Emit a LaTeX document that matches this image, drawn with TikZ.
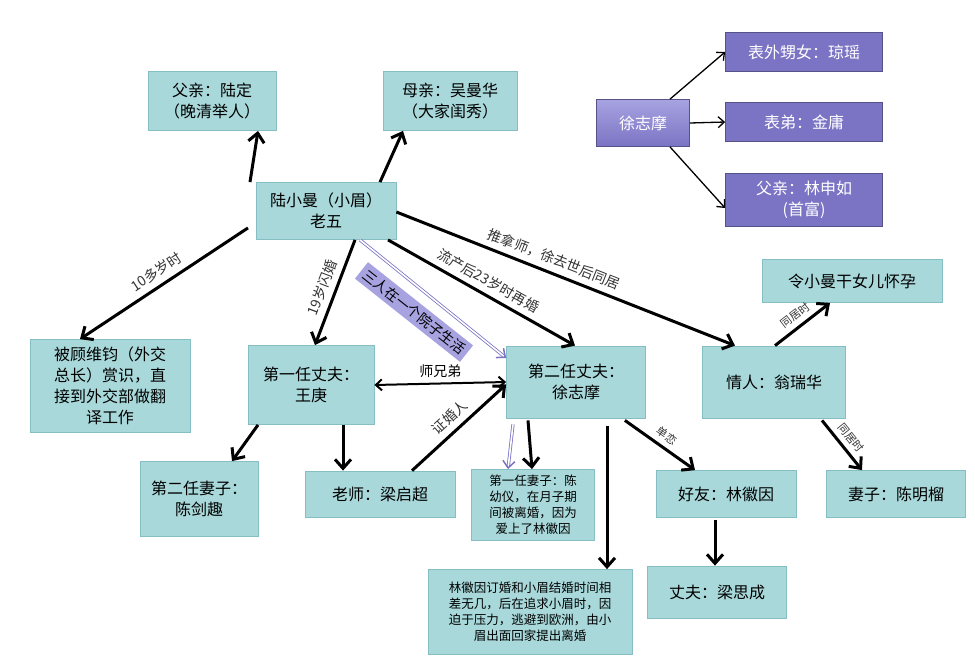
\documentclass[tikz,border=0pt]{standalone}
\usepackage{fontspec}
\setmainfont{Noto Sans CJK SC}
\usetikzlibrary{arrows.meta}
\definecolor{box}{HTML}{A8D8DA}
\definecolor{boxb}{HTML}{86BFC3}
\definecolor{pur}{HTML}{7B74C4}
\definecolor{purl}{HTML}{A7A2E0}
\begin{document}
\begin{tikzpicture}[x=1pt,y=-1pt,
 b/.style={draw=boxb,fill=box,line width=0.8pt,align=center,inner sep=2pt,font=\fontsize{16}{21}\selectfont},
 s/.style={b,font=\fontsize{12.5}{16}\selectfont},
 p/.style={draw=pur!70!black,fill=pur,text=white,align=center,font=\fontsize{16}{21}\selectfont,line width=0.8pt},
 a/.style={line width=3pt,-{Straight Barb[length=9pt,width=16pt,line width=3pt]}},
 t/.style={line width=1.3pt,-{Straight Barb[length=6pt,width=11pt,line width=1.3pt]}},
 pa/.style={double=white,draw=pur,line width=0.8pt,double distance=1.6pt,-{Straight Barb[length=7pt,width=12pt,line width=1.5pt]}},
 l/.style={font=\fontsize{14}{16}\selectfont,sloped,above=5pt,inner sep=1pt,text=black!80},
 ls/.style={font=\fontsize{11}{13}\selectfont,sloped,above=4pt,inner sep=1pt,text=black!80}]
\fill[white] (0,0) rectangle (975,665);
\node[b,minimum width=128pt,minimum height=59pt] (fa) at (212,101) {父亲：陆定\\（晚清举人）};
\node[b,minimum width=134pt,minimum height=59pt] (mo) at (450,101) {母亲：吴曼华\\（大家闺秀）};
\node[b,minimum width=140pt,minimum height=57pt] (lu) at (326,211) {陆小曼（小眉）\\老五};
\node[p,minimum width=93pt,minimum height=47pt,top color=purl,bottom color=pur] (xu0) at (643,123) {徐志摩};
\node[p,minimum width=157pt,minimum height=39pt] (qy) at (804,52) {表外甥女：琼瑶};
\node[p,minimum width=157pt,minimum height=39pt] (jy) at (804,122) {表弟：金庸};
\node[p,minimum width=157pt,minimum height=53pt] (lsr) at (804,200) {父亲：林申如\\(首富)};
\node[b,minimum width=160pt,minimum height=93pt] (gu) at (110,386) {被顾维钧（外交\\总长）赏识，直\\接到外交部做翻\\译工作};
\node[b,minimum width=126pt,minimum height=79pt] (wg) at (311,385) {第一任丈夫：\\王庚};
\node[b,minimum width=139pt,minimum height=72pt] (xu) at (576,382) {第二任丈夫：\\徐志摩};
\node[b,minimum width=143pt,minimum height=72pt] (wr) at (774,382) {情人：翁瑞华};
\node[b,minimum width=180pt,minimum height=43pt] (ly) at (852,281) {令小曼干女儿怀孕};
\node[b,minimum width=118pt,minimum height=75pt] (cj) at (199,499) {第二任妻子：\\陈剑趣};
\node[b,minimum width=150pt,minimum height=46pt] (lq) at (380,494) {老师：梁启超};
\node[s,minimum width=123pt,minimum height=71pt] (cy) at (533,505) {第一任妻子：陈\\幼仪，在月子期\\间被离婚，因为\\爱上了林徽因};
\node[s,minimum width=204pt,minimum height=85pt] (lh) at (530,612) {林徽因订婚和小眉结婚时间相\\差无几，后在追求小眉时，因\\迫于压力，逃避到欧洲，由小\\眉出面回家提出离婚};
\node[b,minimum width=140pt,minimum height=47pt] (lhy) at (726,494) {好友：林徽因};
\node[b,minimum width=139pt,minimum height=52pt] (lsc) at (717,592) {丈夫：梁思成};
\node[b,minimum width=139pt,minimum height=47pt] (cm) at (896,494) {妻子：陈明榴};
\node[fill=purl,rotate=-38.4,inner sep=4pt,font=\fontsize{14}{16}\selectfont] (lab) at (414,312) {三人在一个院子生活};
% arrows
\draw[a] ([xshift=-76pt]lu.north) -- ([xshift=46pt]fa.south);
\draw[a] ([xshift=54pt]lu.north) -- ([xshift=-47pt]mo.south);
\draw[a] ([xshift=-78pt,yshift=12pt]lu.south) -- node[l]{10多岁时} ([xshift=-30pt]gu.north);
\draw[a] ([xshift=29pt]lu.south) -- node[l]{19岁闪婚} ([xshift=4pt]wg.north);
\draw[a] ([xshift=62pt]lu.south) -- node[l]{流产后23岁时再婚} ([xshift=-1pt]xu.north);
\draw[a] ([yshift=-1pt]lu.east) -- node[l,pos=0.45]{推拿师，徐去世后同居} ([xshift=-39pt]wr.north);
\draw[pa] ([xshift=34pt]lu.south) -- ([yshift=24pt]xu.west);
\draw[{Straight Barb[length=6pt,width=11pt,line width=2pt]}-{Straight Barb[length=6pt,width=11pt,line width=2pt]},line width=2pt] (wg.east) -- node[above=2pt,font=\fontsize{14}{16}\selectfont]{师兄弟} (xu.west);
\draw[a] ([xshift=-53pt]wg.south) -- ([xshift=33pt]cj.north);
\draw[a] ([xshift=32pt]wg.south) -- ([xshift=-37pt]lq.north);
\draw[a] ([xshift=32pt]lq.north) -- node[l]{证婚人} ([yshift=34pt]xu.south west);
\draw[pa] ([xshift=-63pt,yshift=-6pt]xu.south) -- ([xshift=-25pt]cy.north);
\draw[a] ([xshift=-48pt,yshift=-2pt]xu.south) -- ([xshift=-1pt]cy.north);
\draw[a] ([xshift=31pt,yshift=-8pt]xu.south) -- ([xshift=77pt]lh.north);
\draw[a] ([xshift=-21pt,yshift=-2pt]xu.south east) -- node[ls]{单恋} ([xshift=-31pt]lhy.north);
\draw[a] ([xshift=-11pt,yshift=-2pt]lhy.south) -- ([xshift=-2pt]lsc.north);
\draw[a] ([xshift=1pt]wr.north) -- node[ls]{同居时} ([xshift=-22pt]ly.south);
\draw[a] ([xshift=48pt,yshift=-2pt]wr.south) -- node[ls]{同居时} ([xshift=-34pt]cm.north);
\draw[t] ([xshift=27pt]xu0.north) -- (qy.west);
\draw[t] (xu0.east) -- (jy.west);
\draw[t] ([xshift=27pt]xu0.south) -- ([yshift=-8pt]lsr.west);
\end{tikzpicture}
\end{document}
